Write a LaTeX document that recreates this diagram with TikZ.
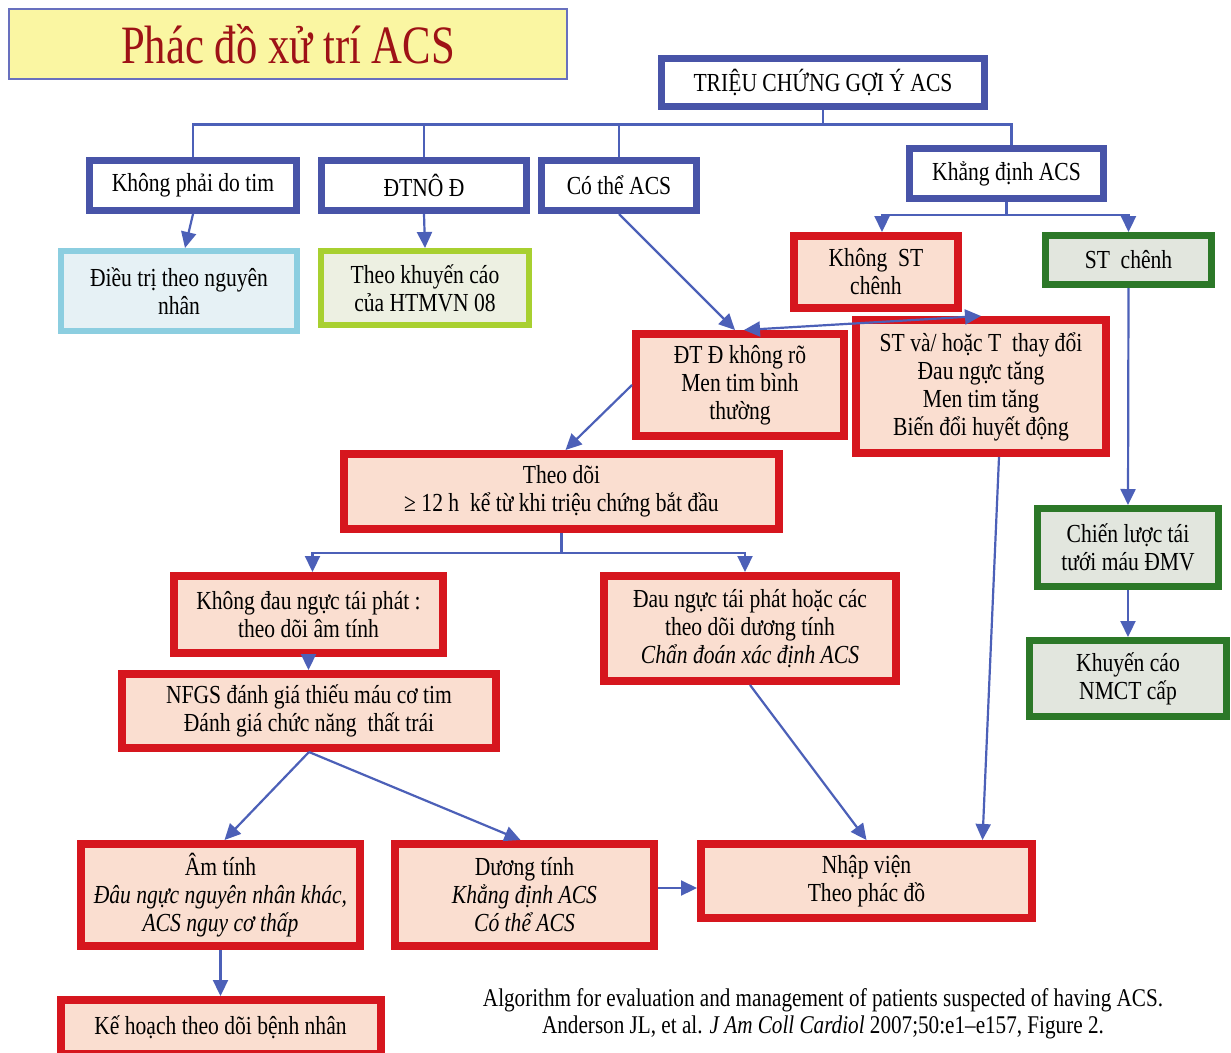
\documentclass[tikz,border=0pt]{standalone}
\usepackage{fontspec}
\setmainfont{Liberation Serif}[FakeStretch=0.83]
\newfontfamily\titlefont{Liberation Serif}[FakeStretch=0.79]
\usetikzlibrary{arrows.meta,calc}
\definecolor{boxblue}{RGB}{72,84,168}
\definecolor{lineblue}{RGB}{76,96,184}
\definecolor{boxred}{RGB}{214,22,30}
\definecolor{pinkfill}{RGB}{250,222,208}
\definecolor{boxgreen}{RGB}{44,120,40}
\definecolor{greenfill}{RGB}{226,230,222}
\definecolor{skyline}{RGB}{140,206,224}
\definecolor{skyfill}{RGB}{230,241,245}
\definecolor{limeline}{RGB}{168,208,48}
\definecolor{limefill}{RGB}{237,240,226}
\definecolor{titlefill}{RGB}{250,246,162}
\definecolor{titleline}{RGB}{104,112,190}
\definecolor{titletext}{RGB}{158,18,22}
\begin{document}
\begin{tikzpicture}[x=1pt,y=-1pt,
    every node/.style={align=center,inner sep=2pt,font=\fontsize{26}{28}\selectfont},
    blubox/.style={draw=boxblue,line width=7pt,fill=white},
    redbox/.style={draw=boxred,line width=8pt,fill=pinkfill},
    grnbox/.style={draw=boxgreen,line width=7pt,fill=greenfill},
    conn/.style={draw=lineblue,line width=2.2pt},
    arr/.style={conn,-{Triangle[length=16pt,width=15pt]}},
    arrtwo/.style={conn,{Triangle[length=16pt,width=15pt]}-{Triangle[length=16pt,width=15pt]}}]
  \useasboundingbox (0,0) rectangle (1231,1052);
  \fill[white] (0,0) rectangle (1231,1052);
  % title
  \node[draw=titleline,line width=2pt,fill=titlefill,minimum width=558pt,minimum height=70pt,
        text=titletext,font=\titlefont\fontsize{54}{60}\selectfont] (title) at (288,44) {Phác đồ xử trí ACS};
  % first level
  \node[blubox,minimum width=323pt,minimum height=48pt] (trieu) at (823,82) {TRIỆU CHỨNG GỢI Ý ACS};
  \node[blubox,minimum width=207pt,minimum height=50pt] (kpdt) at (193,185.5) {Không phải do tim};
  \node[blubox,minimum width=205pt,minimum height=50pt] (dtno) at (424,185.5) {ĐTNÔ Đ};
  \node[blubox,minimum width=155pt,minimum height=50pt] (cothe) at (619,185.5) {Có thể ACS};
  \node[blubox,minimum width=194pt,minimum height=50pt] (khd) at (1006.5,173.5) {Khẳng định ACS};
  \node[draw=skyline,fill=skyfill,line width=6pt,minimum width=236pt,minimum height=80pt] (dieutri) at (179,291) {Điều trị theo nguyên\\nhân};
  \node[draw=limeline,fill=limefill,line width=6pt,minimum width=208pt,minimum height=74pt] (theokc) at (425,288) {Theo khuyến cáo\\của HTMVN 08};
  % ACS confirmed
  \node[redbox,minimum width=164pt,minimum height=72pt] (kst) at (876,272) {Không~ ST\\chênh};
  \node[grnbox,minimum width=166pt,minimum height=49pt] (stch) at (1128.5,260) {ST~ chênh};
  \node[redbox,minimum width=208pt,minimum height=102pt] (dtd) at (740,385) {ĐT Đ không rõ\\Men tim bình\\thường};
  \node[redbox,minimum width=250pt,minimum height=133pt] (stt) at (981,386.5) {ST và/ hoặc T~ thay đổi\\Đau ngực tăng\\Men tim tăng\\Biến đổi huyết động};
  \node[redbox,minimum width=435pt,minimum height=75pt] (theodoi) at (561.5,491.5) {Theo dõi\\≥ 12 h~ kể từ khi triệu chứng bắt đầu};
  \node[redbox,minimum width=269pt,minimum height=77pt] (kdn) at (308.5,614.5) {Không đau ngực tái phát :\\theo dõi âm tính};
  \node[redbox,minimum width=374pt,minimum height=74pt] (nfgs) at (309,711) {NFGS đánh giá thiếu máu cơ tim\\Đánh giá chức năng~ thất trái};
  \node[redbox,minimum width=292pt,minimum height=105pt] (dntp) at (750,628.5) {Đau ngực tái phát hoặc các\\theo dõi dương tính\\\textit{Chẩn đoán xác định ACS}};
  \node[redbox,minimum width=279pt,minimum height=102pt] (amtinh) at (220.5,895) {Âm tính\\\textit{Đâu ngực nguyên nhân khác,}\\\textit{ACS nguy cơ thấp}};
  \node[redbox,minimum width=259pt,minimum height=102pt] (duongtinh) at (524.5,895) {Dương tính\\\textit{Khẳng định ACS}\\\textit{Có thể ACS}};
  \node[redbox,minimum width=331pt,minimum height=74pt] (nhapvien) at (866.5,881) {Nhập viện\\Theo phác đồ};
  \node[redbox,minimum width=320pt,minimum height=54pt] (kehoach) at (220.5,1027) {Kế hoạch theo dõi bệnh nhân};
  \node[grnbox,minimum width=181pt,minimum height=78pt] (chienluoc) at (1128,547.5) {Chiến lược tái\\tưới máu ĐMV};
  \node[grnbox,minimum width=197pt,minimum height=76pt] (khuyenc) at (1128,678.5) {Khuyến cáo\\NMCT cấp};
  % source
  \node[font=\fontsize{25.5}{27}\selectfont] (nguon) at (823,1014) {Algorithm for evaluation and management of patients suspected of having ACS.\\Anderson JL, et al. \textit{J Am Coll Cardiol} 2007;50:e1–e157, Figure 2.};
  % connectors
  \draw[conn] (trieu.south) -- ++(0,15) coordinate (hub);
  \draw[conn] (kpdt.north) |- (hub) -| ([xshift=5pt]khd.north);
  \draw[conn] (dtno.north) -- (dtno.north |- hub);
  \draw[conn] (cothe.north) -- (cothe.north |- hub);
  \draw[arr] (kpdt.south) -- ([xshift=6pt]dieutri.north);
  \draw[arr] (dtno.south) -- (theokc.north);
  \draw[arr] (cothe.south) -- ([xshift=-5pt]dtd.north);
  \draw[conn] (khd.south) -- ++(0,13) coordinate (ksplit);
  \draw[arr] (ksplit) -| ([xshift=6pt]kst.north);
  \draw[arr] (ksplit) -| (stch.north);
  \draw[arrtwo] ([xshift=4pt]dtd.north) -- (stt.north);
  \draw[arr] (dtd.west) -- ([xshift=4pt]theodoi.north);
  \draw[conn] (theodoi.south) -- ++(0,20) coordinate (tsplit);
  \draw[arr] (tsplit) -| ([xshift=4pt]kdn.north);
  \draw[arr] (tsplit) -| ([xshift=-5pt]dntp.north);
  \draw[arr] (kdn.south) -- (kdn.south |- nfgs.north);
  \draw[arr] (nfgs.south) -- ([xshift=4pt]amtinh.north);
  \draw[arr] (nfgs.south) -- ([xshift=-4pt]duongtinh.north);
  \draw[arr] (amtinh.south) -- (kehoach.north);
  \draw[arr] ([yshift=7pt]duongtinh.east) -- ([yshift=-7pt]nhapvien.west);
  \draw[arr] (dntp.south) -- (nhapvien.north);
  \draw[arr] ([xshift=18pt]stt.south) -- ([xshift=116pt]nhapvien.north);
  \draw[arr] (stch.south) -- (chienluoc.north);
  \draw[arr] (chienluoc.south) -- (khuyenc.north);
\end{tikzpicture}
\end{document}
